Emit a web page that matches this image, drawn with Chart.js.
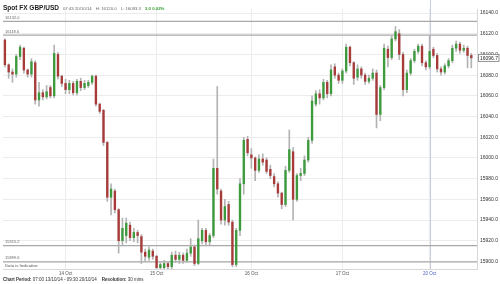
<!DOCTYPE html>
<html>
<head>
<meta charset="utf-8">
<script src="https://cdn.jsdelivr.net/npm/chart.js@4.4.1/dist/chart.umd.min.js"></script>
<style>
  body { margin: 0; background: #fff; font-family: "Liberation Sans", Arial, sans-serif; }
  #wrap { position: relative; width: 500px; height: 284px; overflow: hidden; }
  #chart { position: absolute; left: 0; top: 0; }
  .head { position: absolute; left: 3px; top: 1px; white-space: nowrap; line-height: 8px; }
  .head b { font-size: 6.5px; color: #222; }
  .head span { font-size: 4.3px; color: #666; margin-left: 4px; }
  .head .chg { color: #2e9e2e; font-weight: bold; }
  .foot { position: absolute; left: 3px; top: 277px; font-size: 4.5px; color: #333; white-space: nowrap; }
  .foot b { font-weight: bold; }
</style>
</head>
<body>
<div id="wrap">
  <canvas id="chart" width="500" height="284"></canvas>
  <div class="head"><b>Spot FX GBP/USD</b><span>07:43 20/10/14</span><span>H: 16120.0</span><span>L: 16093.3</span><span class="chg">3.0 0.02%</span></div>
  <div class="foot"><b>Chart Period:</b> 07:00 13/10/14 - 09:30 20/10/14 &nbsp;&nbsp; <b>Resolution:</b> 30 mins</div>
</div>
<script>
// hourly candles
const opens = [16114,16090,16083,16081,16098,16106,16085,16081,16092,16056,16063,16059,16068,16060,16100,16079,
  16072,16066,16072,16063,16074,16068,16070,16073,16079,16052,16046,16015,15962,15968,15950,15920,
  15925,15935,15923,15928,15924,15909,15904,15910,15905,15894,15894,15898,15895,15906,15902,15906,
  15901,15908,15914,15898,15920,15930,15919,15925,15990,15968,15940,15955,15938,15897,15930,15975,
  16018,16003,16000,15988,15999,15998,15989,15982,15975,15966,15955,15988,16006,15960,15983,15985,
  15998,16017,16052,16062,16058,16073,16062,16088,16080,16075,16084,16107,16092,16078,16086,16080,
  16074,16077,16082,16042,16068,16105,16097,16115,16120,16100,16066,16082,16094,16103,16108,16092,
  16088,16105,16099,16086,16083,16089,16094,16106,16110,16104,16106,16099];
const highs = [16115,16091,16086,16100,16109,16107,16086,16096,16094,16073,16066,16070,16070,16109,16102,16080,
  16076,16075,16074,16076,16077,16075,16075,16080,16080,16053,16047,16016,15975,15970,15951,15942,
  15942,15938,15932,15930,15926,15912,15914,15912,15906,15899,15901,15900,15909,15910,15909,15908,
  15912,15922,15916,15940,15932,15932,15927,15999,16069,15970,15960,15958,15940,15932,15980,16020,
  16021,16009,16001,16003,16004,16000,15993,15985,15977,15967,15992,16027,16010,15985,15990,16002,
  16020,16060,16065,16066,16076,16075,16090,16091,16082,16086,16110,16108,16093,16090,16088,16082,
  16080,16086,16085,16070,16110,16108,16118,16127,16124,16102,16085,16096,16105,16110,16110,16094,
  16118,16107,16101,16088,16091,16096,16109,16113,16112,16109,16108,16101];
const lows = [16088,16077,16073,16078,16095,16082,16078,16078,16052,16050,16056,16057,16058,16058,16076,16069,
  16062,16062,16061,16061,16065,16066,16068,16071,16050,16043,16012,15958,15945,15947,15908,15915,
  15918,15920,15919,15918,15898,15900,15901,15902,15892,15892,15892,15893,15893,15899,15898,15898,
  15899,15905,15896,15897,15917,15915,15916,15923,15965,15936,15935,15935,15895,15895,15925,15965,
  16002,15990,15978,15986,15993,15985,15980,15972,15962,15951,15953,15986,15940,15958,15978,15983,
  15996,16014,16050,16052,16056,16058,16060,16077,16072,16072,16082,16089,16071,16075,16077,16071,
  16072,16075,16029,16036,16066,16088,16095,16113,16095,16060,16063,16080,16092,16101,16089,16085,
  16086,16097,16083,16080,16081,16087,16092,16103,16101,16102,16087,16087];
const closes = [16090,16083,16081,16098,16107,16085,16081,16093,16056,16063,16059,16064,16060,16101,16079,16072,
  16066,16072,16063,16074,16068,16072,16073,16079,16052,16045,16015,15962,15970,15950,15920,15932,
  15937,15923,15928,15925,15909,15905,15911,15905,15894,15897,15898,15895,15906,15902,15906,15901,
  15908,15914,15898,15922,15930,15919,15925,15990,15970,15940,15953,15938,15897,15930,15975,16017,
  16005,16000,15988,15999,15996,15987,15983,15975,15966,15955,15988,16008,15960,15983,15985,15998,
  16017,16055,16062,16058,16073,16062,16085,16080,16075,16084,16107,16092,16077,16086,16080,16074,
  16077,16082,16042,16068,16106,16097,16115,16122,16100,16066,16082,16094,16103,16108,16092,16088,
  16103,16099,16086,16083,16089,16094,16106,16110,16104,16106,16099,16096.7];

// one empty slot after the last candle, like the reference
const slots = opens.concat([null]).map((_, i) => i);
const dayTickIdx = [16, 40, 65, 89, 112];
const dayTickText = ['14 Oct', '15 Oct', '16 Oct', '17 Oct', '20 Oct'];
const refLevels = [16132.0, 16118.6, 15915.2, 15899.6];
const cursorIdx = 112;
const lastPrice = 16096.7;

const bodies = opens.map((o, i) => [o, closes[i]]);
const wicks = lows.map((l, i) => [l, highs[i]]);
const bodyColors = opens.map((o, i) => closes[i] >= o ? '#3d9a3d' : '#a83a3a');

const overlays = {
    id: 'overlays',
    beforeDatasetsDraw(chart) {
        const { ctx, chartArea: a, scales: { x, y } } = chart;
        ctx.save();
        // cursor line
        const cx = Math.round(x.getPixelForValue(cursorIdx)) + 0.5;
        ctx.strokeStyle = '#c9cde3';
        ctx.lineWidth = 1;
        ctx.beginPath();
        ctx.moveTo(cx, 0);
        ctx.lineTo(cx, a.bottom);
        ctx.stroke();
        // high / low reference lines
        ctx.strokeStyle = '#a8a8a8';
        ctx.lineWidth = 1.3;
        ctx.font = '4px "Liberation Sans", Arial';
        ctx.fillStyle = '#666';
        ctx.textBaseline = 'bottom';
        refLevels.forEach(v => {
            const py = y.getPixelForValue(v);
            ctx.beginPath();
            ctx.moveTo(a.left, py);
            ctx.lineTo(a.right, py);
            ctx.stroke();
            ctx.fillText(v.toFixed(1), a.left + 2, py - 1.5);
        });
        ctx.fillStyle = '#555';
        ctx.font = '4.3px "Liberation Sans", Arial';
        ctx.fillText('Data is Indicative', a.left + 2, a.bottom - 1);
        ctx.restore();
    },
    afterDraw(chart) {
        const { ctx, chartArea: a, scales: { y } } = chart;
        const py = y.getPixelForValue(lastPrice);
        ctx.save();
        ctx.fillStyle = '#fff';
        ctx.strokeStyle = '#777';
        ctx.lineWidth = 0.8;
        ctx.fillRect(a.right + 1, py - 3.5, 21, 7);
        ctx.strokeRect(a.right + 1.5, py - 3.5, 20.5, 7);
        ctx.fillStyle = '#222';
        ctx.font = '5px "Liberation Sans", Arial';
        ctx.textBaseline = 'middle';
        ctx.fillText(lastPrice.toFixed(1), a.right + 3, py + 0.3);
        ctx.restore();
    }
};

new Chart(document.getElementById('chart').getContext('2d'), {
    type: 'bar',
    data: {
        labels: slots,
        datasets: [
            {
                label: 'Open/Close',
                data: bodies,
                backgroundColor: bodyColors,
                borderWidth: 0,
                barThickness: 1.7,
                minBarLength: 1,
                grouped: false,
                order: 0
            },
            {
                label: 'High/Low',
                data: wicks,
                backgroundColor: '#b3b3b3',
                borderWidth: 0,
                barThickness: 1,
                grouped: false,
                order: 1
            }
        ]
    },
    options: {
        responsive: false,
        animation: false,
        events: [],
        layout: { padding: { left: 3, top: 9, right: 0, bottom: 0 } },
        plugins: {
            legend: { display: false },
            tooltip: { enabled: false }
        },
        scales: {
            x: {
                afterFit: s => { s.height = 15; },
                grid: {
                    offset: false,
                    drawTicks: false,
                    color: ctx => dayTickIdx.includes(ctx.index) ? '#ececec' : 'rgba(0,0,0,0)'
                },
                border: { color: '#d8d8d8' },
                ticks: {
                    autoSkip: false,
                    maxRotation: 0,
                    padding: 2,
                    font: { size: 4.5, family: '"Liberation Sans", Arial' },
                    color: ctx => ctx.index === cursorIdx ? '#4a5fc1' : '#555',
                    callback: (v, i) => {
                        const k = dayTickIdx.indexOf(i);
                        return k >= 0 ? dayTickText[k] : '';
                    }
                }
            },
            y: {
                position: 'right',
                min: 15892.7,
                max: 16143.9,
                afterFit: s => { s.width = 23; },
                grid: { color: '#ececec', drawTicks: false },
                border: { color: '#d8d8d8' },
                ticks: {
                    stepSize: 20,
                    includeBounds: false,
                    padding: 3,
                    font: { size: 5, family: '"Liberation Sans", Arial' },
                    color: '#333',
                    callback: v => v.toFixed(1)
                }
            }
        }
    },
    plugins: [overlays]
});
</script>
</body>
</html>
